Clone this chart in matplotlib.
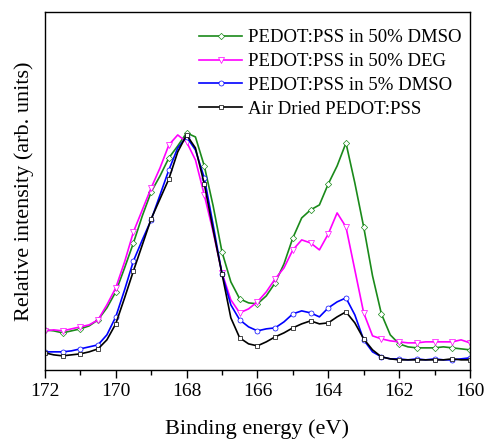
import matplotlib
matplotlib.use("Agg")
import matplotlib.pyplot as plt
import numpy as np
from matplotlib.ticker import MultipleLocator

plt.rcParams['font.family'] = ['Liberation Serif', 'DejaVu Serif']

# binding energy grid (eV), 0.25 eV steps from 172 down to 160
energy = np.arange(172, 159.99, -0.25)

# relative intensity (arb. units)
dmso50 = [40, 39, 37, 39, 41, 44, 50, 62, 78, 102, 127, 154, 178, 194, 212, 224, 237,
          233, 204, 164, 118, 88, 71, 67, 66, 74, 87, 106, 132, 152, 160, 165, 186,
          204, 227, 187, 143, 94, 56, 35, 26, 23, 22, 22, 22, 23, 22, 21, 20]
deg50 = [39, 40, 39, 41, 43, 45, 50, 65, 82, 108, 138, 160, 182, 202, 225, 235, 228,
         210, 175, 138, 97, 70, 57, 61, 68, 78, 91, 102, 120, 130, 127, 120, 136,
         157, 143, 100, 57, 34, 31, 29, 28, 27, 27, 28, 28, 28, 28, 30, 27]
dmso5 = [18, 18, 18, 19, 21, 23, 25, 35, 53, 80, 109, 130, 150, 175, 200, 222, 233,
         220, 192, 145, 96, 65, 50, 43, 39, 41, 42, 48, 56, 59, 57, 53, 62,
         68, 72, 55, 30, 18, 13, 11, 11, 10, 11, 10, 11, 10, 10, 11, 12]
air_dried = [17, 15, 14, 15, 16, 18, 21, 30, 46, 72, 99, 125, 151, 171, 191, 218, 235,
             222, 186, 140, 96, 52, 32, 26, 24, 28, 33, 37, 42, 46, 49, 46, 47,
             53, 58, 47, 31, 20, 13, 11, 10, 10, 10, 10, 10, 10, 11, 10, 10]

series = [
    (dmso50, 'PEDOT:PSS in 50% DMSO', '#1a8a1a', 'D', 3.2),
    (deg50, 'PEDOT:PSS in 50% DEG', '#ff00ff', 'v', 4.0),
    (dmso5, 'PEDOT:PSS in 5% DMSO', '#0000ff', 'o', 3.6),
    (air_dried, 'Air Dried PEDOT:PSS', '#000000', 's', 3.2),
]

fig = plt.figure(figsize=(4.88, 4.44), dpi=100)
ax = fig.add_axes([0.092, 0.167, 0.871, 0.806])

for vals, label, col, mk, ms in series:
    ax.plot(energy, vals, color=col, lw=1.2, marker=mk, markersize=ms,
            markerfacecolor='white', markeredgecolor=col, markeredgewidth=0.5,
            markevery=(0, 2), label=label)

ax.set_xlim(172, 160)
ax.set_ylim(0, 358)
ax.xaxis.set_major_locator(MultipleLocator(2))
ax.xaxis.set_minor_locator(MultipleLocator(1))
ax.tick_params(axis='x', which='major', direction='out', length=6, width=1, labelsize=14)
ax.tick_params(axis='x', which='minor', direction='out', length=3.5, width=1)
ax.set_yticks([])
for s in ax.spines.values():
    s.set_linewidth(1)

ax.set_xlabel('Binding energy (eV)', fontsize=16, labelpad=14)
ax.set_ylabel('Relative intensity (arb. units)', fontsize=16, labelpad=8)

ax.legend(loc='upper right', bbox_to_anchor=(0.993, 0.968), frameon=False,
          fontsize=13.5, handlelength=2.3, handletextpad=0.3, labelspacing=0.36,
          borderaxespad=0.0, borderpad=0.3)

fig.savefig('out.png', dpi=100)
